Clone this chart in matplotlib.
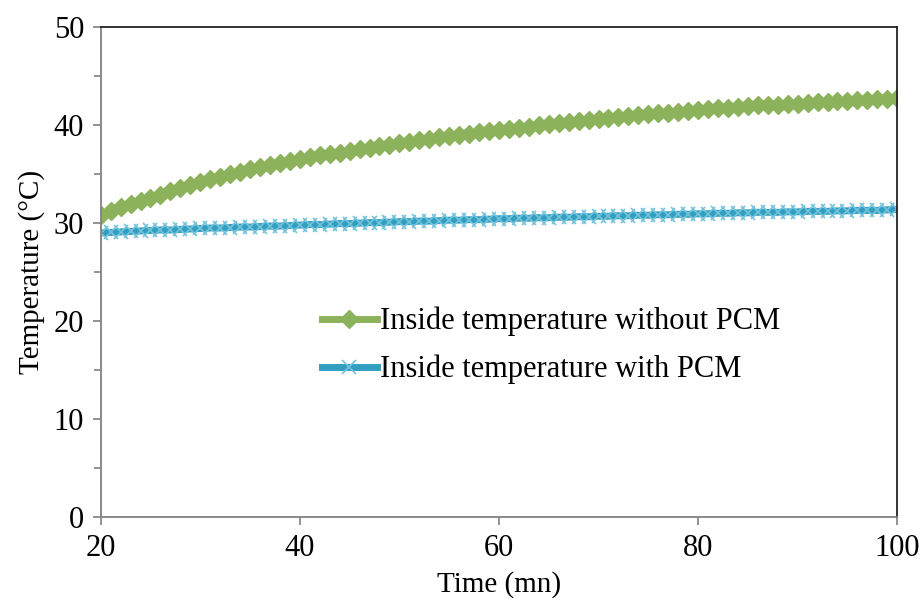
import matplotlib.pyplot as plt
from matplotlib.ticker import MultipleLocator

time_mn = list(range(20, 101))

temp_without_pcm = [
    30.8, 31.2, 31.6, 31.9, 32.3, 32.6, 32.9, 33.3, 33.6, 33.9,
    34.2, 34.5, 34.7, 35.0, 35.2, 35.5, 35.7, 35.9, 36.1, 36.3,
    36.5, 36.7, 36.9, 37.1, 37.2, 37.4, 37.6, 37.7, 37.9, 38.0,
    38.2, 38.3, 38.5, 38.6, 38.8, 38.9, 39.0, 39.1, 39.3, 39.4,
    39.5, 39.6, 39.7, 39.8, 40.0, 40.1, 40.2, 40.3, 40.4, 40.5,
    40.6, 40.7, 40.8, 40.9, 41.0, 41.1, 41.2, 41.2, 41.3, 41.4,
    41.5, 41.6, 41.7, 41.7, 41.8, 41.9, 42.0, 42.0, 42.1, 42.2,
    42.2, 42.3, 42.4, 42.4, 42.5, 42.5, 42.6, 42.6, 42.7, 42.7,
    42.8,
]

temp_with_pcm = [
    29.0, 29.05, 29.1, 29.15, 29.2, 29.25, 29.3, 29.3, 29.35, 29.4,
    29.45, 29.5, 29.5, 29.55, 29.6, 29.6, 29.65, 29.7, 29.7, 29.75,
    29.8, 29.85, 29.85, 29.9, 29.95, 29.95, 30.0, 30.05, 30.05, 30.1,
    30.15, 30.15, 30.2, 30.2, 30.25, 30.3, 30.3, 30.35, 30.35, 30.4,
    30.45, 30.45, 30.5, 30.5, 30.55, 30.55, 30.6, 30.6, 30.65, 30.65,
    30.7, 30.7, 30.75, 30.75, 30.8, 30.8, 30.85, 30.85, 30.9, 30.9,
    30.95, 30.95, 31.0, 31.0, 31.05, 31.05, 31.1, 31.1, 31.1, 31.15,
    31.15, 31.2, 31.2, 31.2, 31.25, 31.25, 31.3, 31.3, 31.3, 31.35,
    31.4,
]

plt.rcParams['font.family'] = ['Liberation Serif', 'DejaVu Serif']

fig = plt.figure(figsize=(9.24, 6.02), dpi=100)
ax = fig.add_axes([0.109, 0.141, 0.862, 0.814])

green = '#8cb35c'
blue = '#329fc0'

ax.plot(time_mn, temp_without_pcm, color=green, linewidth=5, marker='D',
        markersize=9, markeredgecolor=green, markerfacecolor=green,
        label='Inside temperature without PCM')
ax.plot(time_mn, temp_with_pcm, color=blue, linewidth=5, marker='x',
        markersize=10, markeredgewidth=1.2, markeredgecolor='#74c3dc',
        label='Inside temperature with PCM')

ax.set_xlim(20, 100)
ax.set_ylim(0, 50)
ax.set_xticks([20, 40, 60, 80, 100])
ax.set_yticks([0, 10, 20, 30, 40, 50])
ax.yaxis.set_minor_locator(MultipleLocator(5))
ax.tick_params(labelsize=22, color='#808080', length=6, width=1.2,
               direction='out', pad=6)
ax.tick_params(which='minor', color='#808080', length=5, width=1.2)

for side in ['left', 'bottom']:
    ax.spines[side].set_color('#808080')
for side in ['top', 'right']:
    ax.spines[side].set_color('#222222')
for s in ax.spines.values():
    s.set_linewidth(1.3)

ax.set_xlabel('Time (mn)', fontsize=21, labelpad=6)
ax.set_ylabel('Temperature (°C)', fontsize=21, labelpad=6)

ax.legend(loc='center left', bbox_to_anchor=(0.243, 0.35), frameon=False,
          fontsize=22, handlelength=1.8, handletextpad=0.1, labelspacing=0.6)

fig.savefig('out.png', dpi=100)
